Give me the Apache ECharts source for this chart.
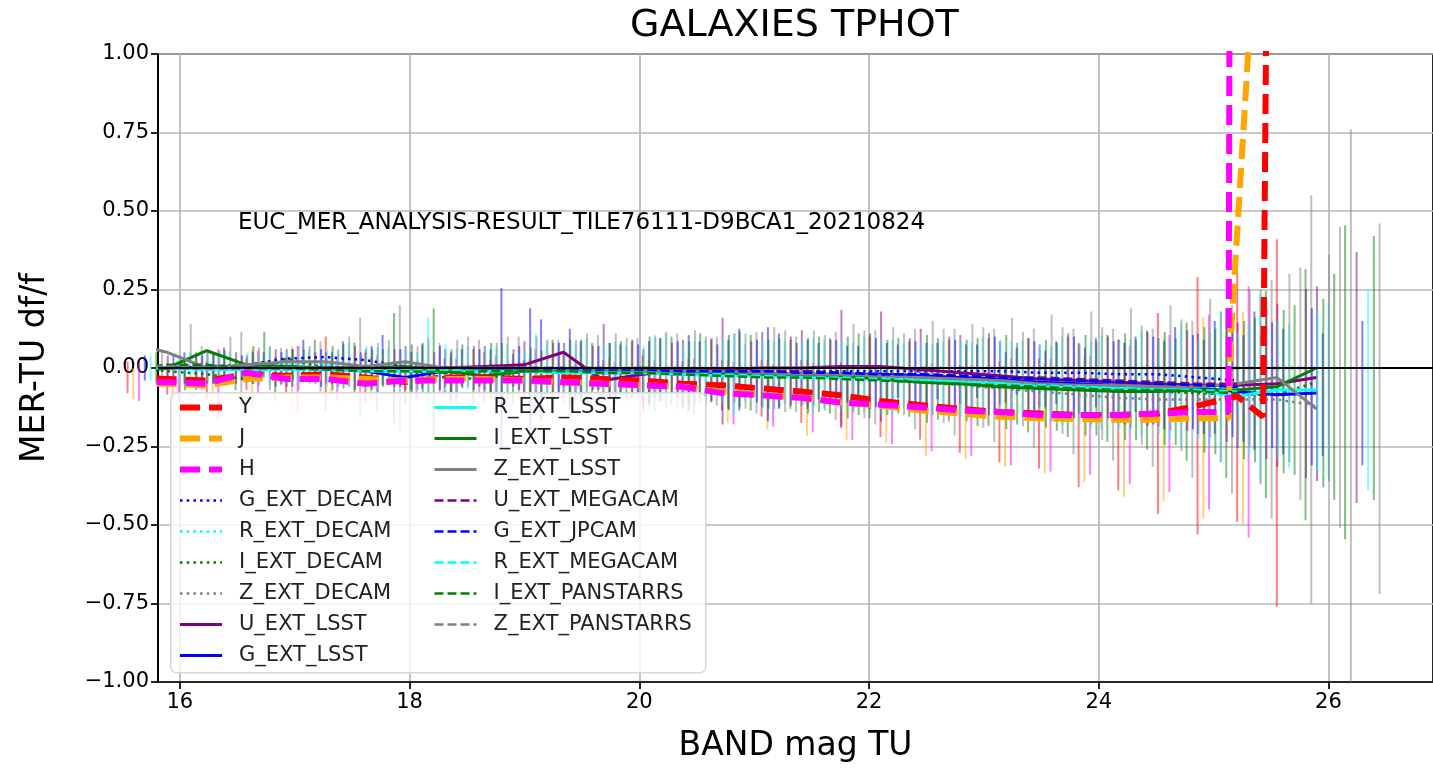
<!DOCTYPE html>
<html>
<head>
<meta charset="utf-8">
<title>GALAXIES TPHOT</title>
<script src="https://cdn.jsdelivr.net/npm/echarts@6/dist/echarts.min.js"></script>
<style>
  html, body { margin: 0; padding: 0; background: #fff; }
  #chart { width: 1433px; height: 773px; }
</style>
</head>
<body>
<div id="chart"></div>
<script>
// bin centres (TU magnitude), one value per bin
const magBins = [15.545, 15.89, 16.235, 16.58, 16.925, 17.27, 17.615, 17.96, 18.305, 18.65, 18.995,
  19.34, 19.685, 20.03, 20.375, 20.72, 21.065, 21.41, 21.755, 22.1, 22.445, 22.79, 23.135, 23.48,
  23.825, 24.17, 24.515, 24.86, 25.205, 25.55, 25.895];
const xTicks = [16, 18, 20, 22, 24, 26];

const bandNames = ['Y', 'J', 'H', 'G_EXT_DECAM', 'R_EXT_DECAM', 'I_EXT_DECAM', 'Z_EXT_DECAM',
  'U_EXT_LSST', 'G_EXT_LSST', 'R_EXT_LSST', 'I_EXT_LSST', 'Z_EXT_LSST', 'U_EXT_MEGACAM',
  'G_EXT_JPCAM', 'R_EXT_MEGACAM', 'I_EXT_PANSTARRS', 'Z_EXT_PANSTARRS'];
// errorbars of each band are drawn a bit to the right of the bin centre
const barShift = [0, 0.05, 0.1, 0.15, 0.2, 0.25, 0.3, 0.35, 0.4, 0.45, 0.5, 0.55, 0.6, 0.65, 0.7, 0.75, 0.8];

// median df/f per bin and its error
const yVals = [-0.03,-0.035,-0.04,-0.02,-0.025,-0.02,-0.03,-0.045,-0.03,-0.03,-0.035,-0.03,-0.035,-0.04,-0.05,-0.055,-0.065,-0.075,-0.087,-0.105,-0.118,-0.13,-0.14,-0.145,-0.15,-0.15,-0.145,-0.12,-0.09,-0.175,null];
const yErrs = [0.05,0.05,0.06,0.05,0.06,0.12,0.08,0.07,0.06,0.08,0.06,0.08,0.06,0.08,0.07,0.08,0.09,0.1,0.105,0.115,0.11,0.14,0.16,0.175,0.23,0.24,0.32,0.41,0.4,0.585,null];
const yTail = [[25.43, -0.155], [25.5, 3]];

const jVals = [-0.05,-0.05,-0.055,-0.035,-0.03,-0.03,-0.035,-0.04,-0.035,-0.035,-0.04,-0.045,-0.05,-0.055,-0.06,-0.075,-0.085,-0.095,-0.11,-0.12,-0.135,-0.145,-0.155,-0.16,-0.163,-0.165,-0.165,-0.16,-0.16,null,null];
const jErrs = [0.05,0.06,0.05,0.095,0.1,0.06,0.07,0.06,0.07,0.06,0.07,0.07,0.08,0.08,0.09,0.1,0.11,0.12,0.12,0.12,0.145,0.145,0.16,0.175,0.2,0.245,0.26,0.32,0.34,null,null];
const jTail = [[25.13, -0.16], [25.15, 0.1], [25.3, 1.0], [25.4, 1.6]];

const hVals = [-0.045,-0.045,-0.05,-0.015,-0.035,-0.035,-0.05,-0.04,-0.04,-0.04,-0.04,-0.045,-0.05,-0.055,-0.06,-0.08,-0.087,-0.095,-0.11,-0.117,-0.125,-0.135,-0.14,-0.15,-0.15,-0.15,-0.145,-0.14,-0.14,null,null];
const hErrs = [0.06,0.06,0.11,0.07,0.105,0.07,0.09,0.06,0.07,0.08,0.1,0.06,0.07,0.08,0.09,0.1,0.1,0.11,0.12,0.125,0.14,0.145,0.17,0.18,0.19,0.22,0.25,0.31,0.4,null,null];
const hTail = [[25.13, -0.14], [25.15, 3]];

const gDecamVals = [0,0,0.005,0.01,0.03,0.035,0.025,0.005,0,0,-0.005,-0.005,-0.005,-0.005,-0.005,-0.005,-0.01,-0.01,-0.01,-0.01,-0.01,-0.01,-0.01,-0.015,-0.015,-0.02,-0.02,-0.03,-0.04,null,null];
const gDecamErrs = [0.04,0.05,0.06,0.04,0.06,0.05,0.08,0.07,0.06,0.255,0.16,0.09,0.08,0.1,0.09,0.13,0.12,0.09,0.08,0.085,0.09,0.085,0.075,0.1,0.11,0.12,0.15,0.18,0.22,null,null];

const rDecamVals = [0,0,0,0.005,0.01,0.01,0.005,0,0,-0.005,-0.005,-0.005,-0.01,-0.01,-0.01,-0.015,-0.015,-0.02,-0.02,-0.025,-0.025,-0.03,-0.035,-0.04,-0.045,-0.05,-0.055,-0.06,-0.065,null,null];
const rDecamErrs = [0.04,0.05,0.05,0.06,0.05,0.07,0.06,0.16,0.07,0.08,0.09,0.1,0.08,0.12,0.1,0.09,0.1,0.11,0.12,0.1,0.11,0.13,0.12,0.14,0.15,0.17,0.2,0.24,0.3,null,null];

const iDecamVals = [0,-0.01,-0.02,-0.035,0.03,0,0,-0.01,-0.03,-0.035,-0.01,0,-0.005,-0.01,-0.01,-0.015,-0.02,-0.025,-0.03,-0.035,-0.04,-0.045,-0.055,-0.06,-0.065,-0.07,-0.075,-0.08,-0.085,-0.085,-0.045];
const iDecamErrs = [0.05,0.06,0.05,0.07,0.06,0.08,0.175,0.2,0.09,0.08,0.1,0.08,0.09,0.11,0.1,0.12,0.11,0.12,0.13,0.12,0.13,0.14,0.15,0.16,0.17,0.19,0.22,0.27,0.33,0.4,0.5];

const zDecamVals = [0,0,0,0.005,0.005,0,0,0,0,0,0,-0.005,-0.005,-0.01,-0.01,-0.015,-0.02,-0.025,-0.03,-0.035,-0.045,-0.055,-0.065,-0.075,-0.085,-0.095,-0.1,-0.1,-0.1,-0.1,-0.12];
const zDecamErrs = [0.05,0.07,0.115,0.06,0.08,0.16,0.2,0.08,0.09,0.1,0.09,0.11,0.1,0.12,0.11,0.13,0.12,0.14,0.15,0.16,0.17,0.18,0.19,0.2,0.21,0.22,0.25,0.3,0.38,0.65,0.88];

const uLsstVals = [0,0,0,0,0,0,0,0,0,0.005,0.01,0.05,-0.04,-0.02,-0.01,-0.005,0,0,0.005,0.005,-0.005,-0.015,-0.025,-0.035,-0.04,-0.045,-0.05,-0.055,-0.055,-0.05,-0.03];
const uLsstErrs = [0.04,0.05,0.04,0.06,0.05,0.06,0.07,0.06,0.07,0.08,0.07,0.09,0.1,0.11,0.17,0.12,0.12,0.185,0.175,0.12,0.11,0.1,0.1,0.11,0.13,0.14,0.16,0.2,0.26,0.31,0.4];

const gLsstVals = [0,0,0,0,0,0,-0.01,-0.03,-0.01,-0.005,-0.005,-0.01,-0.015,-0.015,-0.02,-0.02,-0.02,-0.02,-0.02,-0.02,-0.025,-0.03,-0.035,-0.045,-0.05,-0.055,-0.06,-0.065,-0.075,-0.085,-0.08];
const gLsstErrs = [0.04,0.05,0.05,0.06,0.05,0.07,0.06,0.08,0.07,0.195,0.13,0.09,0.1,0.12,0.11,0.15,0.11,0.09,0.1,0.1,0.1,0.08,0.09,0.11,0.13,0.14,0.15,0.17,0.2,0.195,0.23];

const rLsstVals = [0,0,-0.005,-0.005,-0.005,-0.005,-0.01,-0.01,-0.01,-0.01,-0.01,-0.015,-0.015,-0.015,-0.02,-0.025,-0.025,-0.03,-0.03,-0.035,-0.04,-0.045,-0.05,-0.055,-0.06,-0.065,-0.068,-0.07,-0.09,-0.07,-0.07];
const rLsstErrs = [0.04,0.05,0.05,0.04,0.06,0.07,0.06,0.07,0.08,0.12,0.09,0.1,0.12,0.1,0.13,0.11,0.12,0.11,0.12,0.11,0.12,0.13,0.12,0.14,0.15,0.16,0.18,0.21,0.23,0.28,0.32];

const iLsstVals = [-0.02,0,0.055,0.01,0.005,0,0,0.005,-0.01,-0.025,-0.01,-0.005,-0.005,0,-0.005,-0.015,-0.02,-0.02,-0.025,-0.035,-0.045,-0.05,-0.06,-0.065,-0.07,-0.075,-0.075,-0.07,-0.07,-0.06,0];
const iLsstErrs = [0.05,0.055,0.06,0.05,0.07,0.06,0.08,0.07,0.09,0.08,0.1,0.09,0.1,0.11,0.12,0.11,0.12,0.13,0.12,0.13,0.14,0.13,0.14,0.15,0.16,0.17,0.2,0.23,0.27,0.36,0.42];

const zLsstVals = [0.08,0.05,0,0.01,0.02,0.02,0.005,0.02,0,0,0,-0.005,-0.005,-0.01,-0.01,-0.01,-0.015,-0.02,-0.02,-0.025,-0.03,-0.035,-0.04,-0.05,-0.055,-0.055,-0.06,-0.06,-0.05,-0.03,-0.13];
const zLsstErrs = [0.06,0.05,0.07,0.06,0.08,0.07,0.09,0.08,0.1,0.09,0.11,0.1,0.12,0.11,0.12,0.13,0.12,0.14,0.13,0.15,0.16,0.15,0.17,0.18,0.19,0.21,0.24,0.31,0.37,0.48,0.59];

const uMegaVals = [0,0,0,0,0,0,0,0,0,0,0,0,0,-0.005,-0.005,-0.01,-0.01,-0.01,-0.015,-0.02,-0.02,-0.025,-0.03,-0.03,-0.035,-0.04,-0.045,-0.05,-0.05,null,null];
const uMegaErrs = [0.04,0.05,0.06,0.05,0.07,0.06,0.05,0.07,0.06,0.08,0.07,0.09,0.08,0.1,0.09,0.11,0.1,0.12,0.11,0.12,0.13,0.12,0.14,0.13,0.15,0.16,0.19,0.24,0.3,null,null];

const gJpcamVals = [0,0,0,0,0,0,0,0,0,0,0,-0.005,-0.005,-0.005,-0.01,-0.01,-0.01,-0.015,-0.015,-0.02,-0.02,-0.025,-0.03,-0.035,-0.04,-0.045,-0.05,-0.055,-0.06,null,null];
const gJpcamErrs = [0.04,0.04,0.05,0.06,0.05,0.06,0.07,0.06,0.07,0.08,0.07,0.08,0.09,0.08,0.1,0.09,0.1,0.11,0.1,0.11,0.12,0.11,0.13,0.12,0.14,0.15,0.17,0.2,0.25,null,null];

const rMegaVals = [0,0,0,0,0,0,-0.005,-0.005,-0.005,-0.01,-0.01,-0.01,-0.015,-0.015,-0.02,-0.02,-0.025,-0.03,-0.03,-0.035,-0.04,-0.045,-0.05,-0.055,-0.06,-0.065,-0.07,-0.07,-0.075,null,null];
const rMegaErrs = [0.04,0.05,0.05,0.06,0.07,0.06,0.08,0.07,0.06,0.08,0.09,0.08,0.09,0.1,0.11,0.1,0.11,0.12,0.11,0.12,0.13,0.12,0.13,0.14,0.15,0.16,0.18,0.22,0.26,null,null];

const iPanVals = [0,0.01,0.01,0,0,-0.005,-0.01,-0.01,-0.015,-0.01,-0.01,-0.01,-0.015,-0.015,-0.02,-0.025,-0.03,-0.03,-0.035,-0.04,-0.045,-0.05,-0.055,-0.06,-0.065,-0.07,-0.07,-0.075,-0.08,null,null];
const iPanErrs = [0.05,0.06,0.05,0.07,0.06,0.08,0.07,0.09,0.08,0.1,0.09,0.11,0.1,0.12,0.11,0.12,0.13,0.12,0.14,0.13,0.15,0.14,0.16,0.17,0.18,0.2,0.22,0.26,0.3,null,null];

// Z_EXT_PANSTARRS sits right on the zero line over the whole range
const zPanVals = [0.005,0.005,0,0,0,0,0,0,0,0,0,0,0,0,0,0,0,0,0,0,0,0,0,0,0,0,0,0,0,0,0];
const zPanErrs = [0.05,0.06,0.07,0.06,0.08,0.07,0.09,0.08,0.1,0.09,0.11,0.1,0.12,0.11,0.13,0.12,0.14,0.13,0.15,0.14,0.16,0.17,0.18,0.19,0.2,0.22,0.25,0.3,0.36,null,null];

const annotation = 'EUC_MER_ANALYSIS-RESULT_TILE76111-D9BCA1_20210824';

// vals / errs / last bin used by the line / extra points after it
const bands = [
  [yVals, yErrs, 28, yTail], [jVals, jErrs, 27, jTail], [hVals, hErrs, 27, hTail],
  [gDecamVals, gDecamErrs], [rDecamVals, rDecamErrs], [iDecamVals, iDecamErrs], [zDecamVals, zDecamErrs],
  [uLsstVals, uLsstErrs], [gLsstVals, gLsstErrs], [rLsstVals, rLsstErrs], [iLsstVals, iLsstErrs], [zLsstVals, zLsstErrs],
  [uMegaVals, uMegaErrs], [gJpcamVals, gJpcamErrs], [rMegaVals, rMegaErrs], [iPanVals, iPanErrs], [zPanVals, zPanErrs]
];

// line look of every band (matplotlib style)
const FONT = '"DejaVu Sans", Verdana, sans-serif';
const thick = [20, 9], dots = [2.5, 4.2], dash = [9, 4];
const styles = [
  { color: '#ff0000', width: 6, type: thick },
  { color: '#ffa500', width: 6, type: thick },
  { color: '#ff00ff', width: 6, type: thick },
  { color: '#0000ff', width: 2.5, type: dots },
  { color: '#00ffff', width: 2.5, type: dots },
  { color: '#008000', width: 2.5, type: dots },
  { color: '#808080', width: 2.5, type: dots },
  { color: '#800080', width: 3, type: 'solid' },
  { color: '#0000ff', width: 3, type: 'solid' },
  { color: '#00ffff', width: 3, type: 'solid' },
  { color: '#008000', width: 3, type: 'solid' },
  { color: '#808080', width: 3, type: 'solid' },
  { color: '#800080', width: 2.5, type: dash },
  { color: '#0000ff', width: 2.5, type: dash },
  { color: '#00ffff', width: 2.5, type: dash },
  { color: '#008000', width: 2.5, type: dash },
  { color: '#808080', width: 2.5, type: dash }
];

function lineData(vals, last, tail) {
  let pts = [];
  for (let k = 0; k < vals.length; k++) {
    if (last !== undefined && k > last) break;
    if (vals[k] !== null) pts.push([magBins[k], vals[k]]);
  }
  if (tail) pts = pts.concat(tail);
  return pts;
}

function barData(vals, errs, shift) {
  const out = [];
  for (let k = 0; k < vals.length; k++) {
    if (vals[k] === null || errs[k] === null) continue;
    out.push([magBins[k] + shift, vals[k] - errs[k], vals[k] + errs[k]]);
  }
  return out;
}

function errorBarSeries(name, color, data) {
  return {
    name: name + ' err',
    type: 'custom',
    silent: true,
    z: 2,
    data: data,
    encode: { x: 0, y: [1, 2] },
    renderItem: function (params, api) {
      const cs = params.coordSys;
      const x = api.value(0);
      const a = api.coord([x, api.value(1)]);
      const b = api.coord([x, api.value(2)]);
      const top = cs.y, bottom = cs.y + cs.height;
      const clampY = function (v) { return Math.max(top, Math.min(bottom, v)); };
      return {
        type: 'line',
        shape: { x1: a[0], y1: clampY(a[1]), x2: b[0], y2: clampY(b[1]) },
        style: { stroke: color, lineWidth: 2, opacity: 0.5 }
      };
    }
  };
}

const series = [];
bands.forEach(function (b, i) {
  series.push(errorBarSeries(bandNames[i], styles[i].color, barData(b[0], b[1], barShift[i])));
});
// horizontal reference at zero
series.push({
  name: 'zero', type: 'line', data: [], z: 3, silent: true,
  markLine: {
    silent: true, symbol: 'none', label: { show: false },
    lineStyle: { color: '#000', width: 2.2, type: 'solid' },
    data: [{ yAxis: 0 }]
  }
});
bands.forEach(function (b, i) {
  series.push({
    name: bandNames[i],
    type: 'line',
    symbol: 'none',
    z: i < 3 ? 5 : 4,
    data: lineData(b[0], b[2], b[3]),
    lineStyle: { color: styles[i].color, width: styles[i].width, type: styles[i].type },
    itemStyle: { color: styles[i].color },
    emphasis: { disabled: true }
  });
});

const legendBase = {
  orient: 'vertical',
  top: 392,
  padding: 5,
  itemWidth: 42,
  itemHeight: 14,
  itemGap: 10,
  selectedMode: false,
  z: 20,
  itemStyle: { opacity: 0 },
  lineStyle: { width: 'inherit' },
  textStyle: { fontSize: 21, lineHeight: 21, fontFamily: FONT, color: '#222', padding: [0, 0, 0, 12] }
};

const option = {
  animation: false,
  backgroundColor: '#fff',
  title: {
    text: 'GALAXIES TPHOT',
    left: 630, top: 7, padding: 0,
    textStyle: { fontSize: 38, fontWeight: 'normal', fontFamily: FONT, color: '#000' }
  },
  grid: {
    left: 158, right: 0, top: 54, bottom: 91,
    outerBoundsMode: 'none',
    show: true, borderColor: '#000', borderWidth: 1.7, backgroundColor: '#fff'
  },
  legend: [
    Object.assign({}, legendBase, { left: 172, data: bandNames.slice(0, 9) }),
    Object.assign({}, legendBase, { left: 428, data: bandNames.slice(9) })
  ],
  graphic: [
    {
      type: 'rect', left: 170, top: 392, z: 10, silent: true,
      shape: { width: 535, height: 280, r: 6 },
      style: { fill: 'rgba(255,255,255,0.8)', stroke: '#d6d6d6', lineWidth: 1.5 }
    },
    {
      type: 'text', left: 238, top: 212, z: 10, silent: true,
      style: { text: annotation, font: '23px ' + FONT, fill: '#000' }
    }
  ],
  xAxis: {
    type: 'value',
    min: 15.81, max: 26.91,
    name: 'BAND mag TU',
    nameLocation: 'middle',
    nameGap: 48,
    nameTextStyle: { fontSize: 33, fontFamily: FONT, color: '#000' },
    axisLine: { onZero: false, lineStyle: { color: '#000', width: 1.7 } },
    axisTick: { customValues: xTicks, length: 7, lineStyle: { color: '#000', width: 1.7 } },
    axisLabel: { customValues: xTicks, fontSize: 21, fontFamily: FONT, color: '#000', margin: 10 },
    splitLine: { show: true, lineStyle: { color: '#b8b8b8', width: 1.7 } }
  },
  yAxis: {
    type: 'value',
    min: -1, max: 1, interval: 0.25,
    name: 'MER-TU df/f',
    nameLocation: 'middle',
    nameRotate: 90,
    nameGap: 106,
    nameTextStyle: { fontSize: 33, fontFamily: FONT, color: '#000' },
    axisLine: { show: true, onZero: false, lineStyle: { color: '#000', width: 1.7 } },
    axisTick: { show: true, length: 7, lineStyle: { color: '#000', width: 1.7 } },
    axisLabel: {
      fontSize: 21, fontFamily: FONT, color: '#000', margin: 9,
      formatter: function (v) { return v.toFixed(2).replace('-', '\u2212'); }
    },
    splitLine: { show: true, lineStyle: { color: '#b8b8b8', width: 1.7 } }
  },
  series: series
};

const chart = echarts.init(document.getElementById('chart'));
chart.setOption(option);
</script>
</body>
</html>
